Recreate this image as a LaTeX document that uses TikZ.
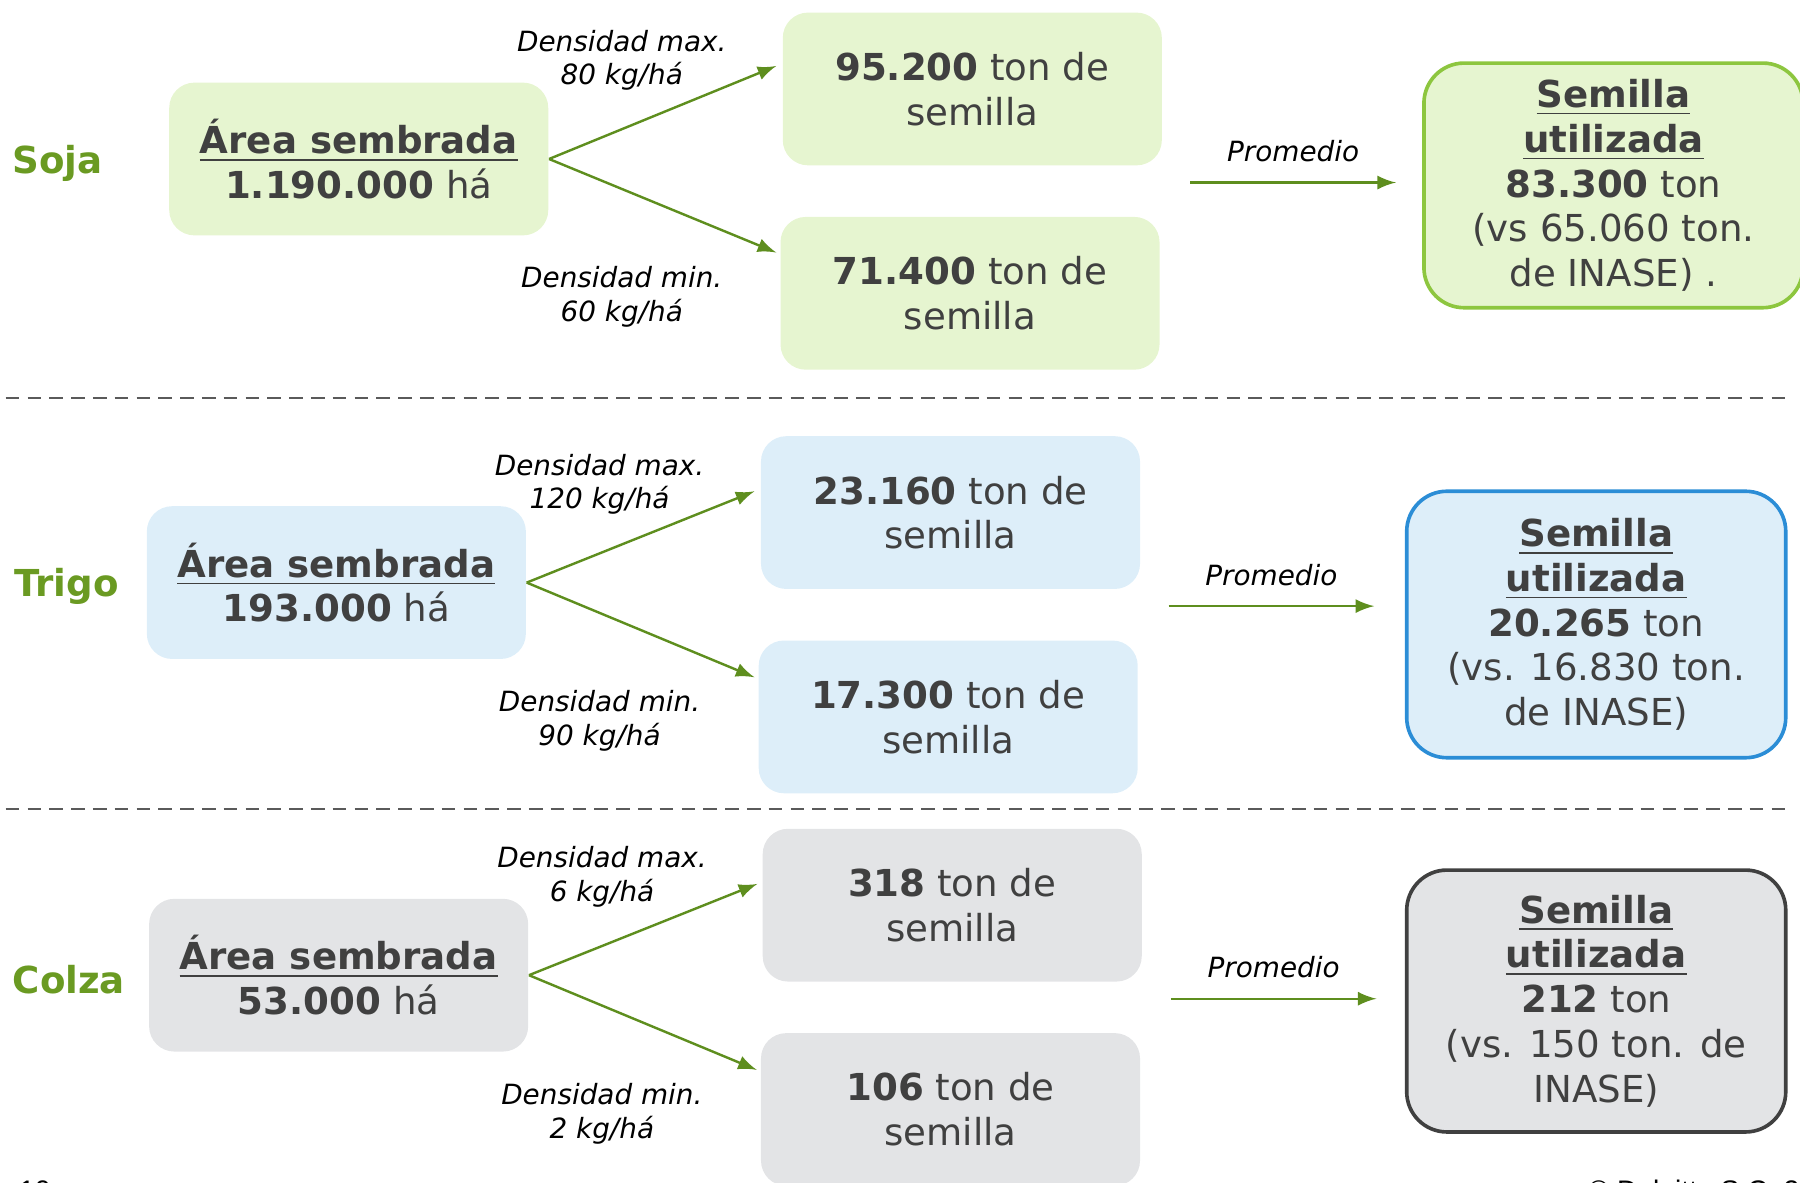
\documentclass[tikz,border=0pt]{standalone}
\usepackage{fontspec}
\setmainfont{DejaVu Sans}
\newfontfamily\footfont{Liberation Sans}
\usepackage{xcolor}
\usetikzlibrary{positioning}

\definecolor{sojafill}{HTML}{E6F5D0}
\definecolor{sojaline}{HTML}{8DC63F}
\definecolor{trigofill}{HTML}{DDEEF9}
\definecolor{trigoline}{HTML}{2B8DD6}
\definecolor{colzafill}{HTML}{E3E4E6}
\definecolor{colzaline}{HTML}{404040}
\definecolor{textgray}{HTML}{404040}
\definecolor{cropgreen}{HTML}{6A9A22}
\definecolor{arrowgreen}{HTML}{5E8E1E}
\definecolor{rulegray}{HTML}{5A5A5A}

\newcommand{\diagfont}{\fontsize{9.2}{11.1}\selectfont}
\newcommand{\notefont}{\fontsize{6.9}{8.3}\selectfont\itshape}

\tikzset{
  croplabel/.style={font=\diagfont\bfseries, text=cropgreen},
  areabox/.style={rounded corners=0.22cm, minimum width=3.3cm, minimum height=1.33cm, align=center, text=textgray, font=\diagfont},
  seedbox/.style={areabox},
  totalbox/.style={rounded corners=0.35cm, minimum width=3.3cm, line width=0.9pt, align=center, text=textgray, font=\diagfont},
  flow/.style={draw=arrowgreen, line width=0.6pt},
  note/.style={font=\notefont, align=center, text=black},
  divider/.style={draw=rulegray, line width=0.45pt, dash pattern=on 3.4pt off 2pt}
}

\begin{document}
\begin{tikzpicture}[x=0.01cm, y=-0.01cm, every path/.style={>=latex}]
	\useasboundingbox (0,0) rectangle (1568,1030);

	% Soja
	\node (Soja) at (50,142) [croplabel] {Soja};
	\node (SojaArea) at (312.5,138.5) [areabox, fill=sojafill] {\underline{\textbf{Área sembrada}}\\\textbf{1.190.000} há};
	\node (SojaMax) at (847,77.5) [seedbox, fill=sojafill] {\textbf{95.200} ton de\\semilla};
	\node (SojaMin) at (845,255.5) [seedbox, fill=sojafill] {\textbf{71.400} ton de\\semilla};
	\node (SojaTotal) at (1405.5,161.5) [totalbox, fill=sojafill, draw=sojaline, minimum height=2.13cm] {\underline{\textbf{Semilla}}\\\underline{\textbf{utilizada}}\\\textbf{83.300} ton\\(vs 65.060 ton.\\de INASE) .};
	\coordinate (SojaAvg) at (1037,159);
	\coordinate (SojaAvgEnd) at (1216,159);
	\draw[->, flow] (SojaArea.east) to node[pos=0.32, above=0.21cm, note]{Densidad max.\\80 kg/há} ([xshift=-0.05cm,yshift=0.2cm]SojaMax.west);
	\draw[->, flow] (SojaArea.east) to node[pos=0.32, below=0.55cm, note]{Densidad min.\\60 kg/há} ([xshift=-0.03cm,yshift=0.355cm]SojaMin.west);
	\draw[->, flow] (SojaAvg) to node[above=0.05cm, note]{Promedio} (SojaAvgEnd);

	\draw[divider] (5,347) -- (1557,347);

	% Trigo
	\node (Trigo) at (58,511) [croplabel] {Trigo};
	\node (TrigoArea) at (293,507.5) [areabox, fill=trigofill] {\underline{\textbf{Área sembrada}}\\\textbf{193.000} há};
	\node (TrigoMax) at (828,446.5) [seedbox, fill=trigofill] {\textbf{23.160} ton de\\semilla};
	\node (TrigoMin) at (826,624.5) [seedbox, fill=trigofill] {\textbf{17.300} ton de\\semilla};
	\node (TrigoTotal) at (1390.5,544) [totalbox, fill=trigofill, draw=trigoline, minimum height=2.32cm] {\underline{\textbf{Semilla}}\\\underline{\textbf{utilizada}}\\\textbf{20.265} ton\\(vs. 16.830 ton.\\de INASE)};
	\coordinate (TrigoAvg) at (1018,528);
	\coordinate (TrigoAvgEnd) at (1197,528);
	\draw[->, flow] (TrigoArea.east) to node[pos=0.32, above=0.21cm, note]{Densidad max.\\120 kg/há} ([xshift=-0.05cm,yshift=0.185cm]TrigoMax.west);
	\draw[->, flow] (TrigoArea.east) to node[pos=0.32, below=0.55cm, note]{Densidad min.\\90 kg/há} ([xshift=-0.03cm,yshift=0.345cm]TrigoMin.west);
	\draw[->, flow] (TrigoAvg) to node[above=0.05cm, note]{Promedio} (TrigoAvgEnd);

	\draw[divider] (5,705) -- (1557,705);

	% Colza
	\node (Colza) at (60,853) [croplabel] {Colza};
	\node (ColzaArea) at (295,849.5) [areabox, fill=colzafill] {\underline{\textbf{Área sembrada}}\\\textbf{53.000} há};
	\node (ColzaMax) at (829.5,788.5) [seedbox, fill=colzafill] {\textbf{318} ton de\\semilla};
	\node (ColzaMin) at (828,966.5) [seedbox, fill=colzafill] {\textbf{106} ton de\\semilla};
	\node (ColzaTotal) at (1390.5,872) [totalbox, fill=colzafill, draw=colzaline, minimum height=2.28cm] {\underline{\textbf{Semilla}}\\\underline{\textbf{utilizada}}\\\textbf{212} ton\\(vs. 150 ton. de\\INASE)};
	\coordinate (ColzaAvg) at (1020,870);
	\coordinate (ColzaAvgEnd) at (1199,870);
	\draw[->, flow] (ColzaArea.east) to node[pos=0.32, above=0.21cm, note]{Densidad max.\\6 kg/há} ([xshift=-0.04cm,yshift=0.185cm]ColzaMax.west);
	\draw[->, flow] (ColzaArea.east) to node[pos=0.32, below=0.55cm, note]{Densidad min.\\2 kg/há} ([xshift=-0.03cm,yshift=0.345cm]ColzaMin.west);
	\draw[->, flow] (ColzaAvg) to node[above=0.05cm, note]{Promedio} (ColzaAvgEnd);

	% page footer, cut by the page edge
	\node (PageNo) at (16,1027.5) [anchor=north west, inner sep=0, font=\footfont\fontsize{7}{8}\selectfont] {10};
	\node (Copy) at (1383,1027.5) [anchor=north west, inner sep=0, font=\footfont\fontsize{7}{8}\selectfont] {© Deloitte S.C. 2016};
\end{tikzpicture}
\end{document}
